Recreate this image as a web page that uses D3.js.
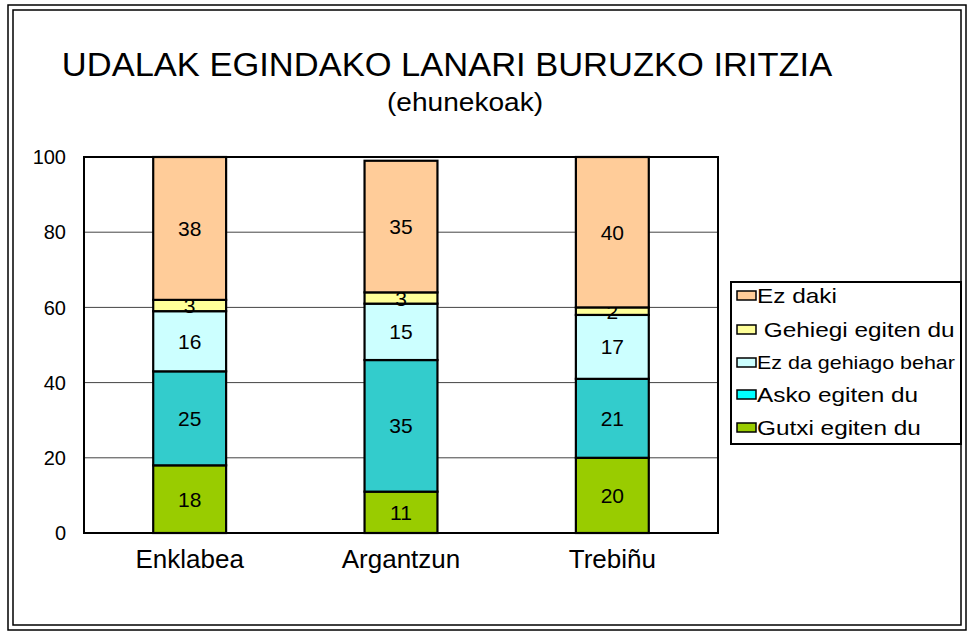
<!DOCTYPE html>
<html>
<head>
<meta charset="utf-8">
<script src="https://cdn.jsdelivr.net/npm/d3@7"></script>
<style>
  body { margin: 0; background: #fff; }
  svg { font-family: Arial, "Liberation Sans", sans-serif; }
</style>
</head>
<body>
<svg id="chart" width="973" height="632"></svg>
<script>
const categories = ["Enklabea", "Argantzun", "Trebiñu"];
// stacking order bottom -> top
const seriesNames = ["Gutxi egiten du", "Asko egiten du", "Ez da gehiago behar", "Gehiegi egiten du", "Ez daki"];
const gutxi = [18, 11, 20];
const asko = [25, 35, 21];
const ezDaGehiago = [16, 15, 17];
const gehiegi = [3, 3, 2];
const ezDaki = [38, 35, 40];
const yTicks = [0, 20, 40, 60, 80, 100];

const barColors = ["#99cc00", "#33cccc", "#ccffff", "#ffff99", "#ffcc99"];
const legendColors = ["#99cc00", "#00ffff", "#ccffff", "#ffff99", "#ffcc99"];

const svg = d3.select("#chart");
const margin = {top: 157, left: 84, right: 255, bottom: 99};
const width = 973 - margin.left - margin.right;
const height = 632 - margin.top - margin.bottom;

// double frame
svg.append("rect").attr("x", 8).attr("y", 5).attr("width", 958).attr("height", 625)
  .attr("fill", "none").attr("stroke", "#000").attr("stroke-width", 1.5);
svg.append("rect").attr("x", 13).attr("y", 10).attr("width", 948).attr("height", 615)
  .attr("fill", "none").attr("stroke", "#000").attr("stroke-width", 1.5);

// title, slightly widened like the original
svg.append("text").attr("transform", "translate(447,76) scale(1.045,1)")
  .attr("text-anchor", "middle")
  .attr("font-size", 33).text("UDALAK EGINDAKO LANARI BURUZKO IRITZIA");
svg.append("text").attr("transform", "translate(465,111) scale(1.08,1)")
  .attr("text-anchor", "middle")
  .attr("font-size", 26).text("(ehunekoak)");

const g = svg.append("g").attr("transform", `translate(${margin.left},${margin.top})`);

const x = d3.scaleBand().domain(categories).range([0, width]);
const y = d3.scaleLinear().domain([0, 100]).range([height, 0]);

// gridlines
g.selectAll(".grid").data(yTicks.filter(d => d > 0 && d < 100)).enter().append("line")
  .attr("x1", 0).attr("x2", width)
  .attr("y1", d => y(d)).attr("y2", d => y(d))
  .attr("stroke", "#444").attr("stroke-width", 1);

// y axis labels
g.selectAll(".ytick").data(yTicks).enter().append("text")
  .attr("x", -18).attr("y", d => y(d)).attr("dy", "0.36em")
  .attr("text-anchor", "end").attr("font-size", 20).text(d => d);

// stacked data
const table = categories.map((c, i) => ({
  cat: c,
  "Gutxi egiten du": gutxi[i],
  "Asko egiten du": asko[i],
  "Ez da gehiago behar": ezDaGehiago[i],
  "Gehiegi egiten du": gehiegi[i],
  "Ez daki": ezDaki[i]
}));
const stacked = d3.stack().keys(seriesNames)(table);

const barW = x.bandwidth() * 0.345;
const layers = g.selectAll(".layer").data(stacked).enter().append("g")
  .attr("fill", (d, i) => barColors[i]);

layers.selectAll("rect").data(d => d).enter().append("rect")
  .attr("x", d => x(d.data.cat) + (x.bandwidth() - barW) / 2)
  .attr("width", barW)
  .attr("y", d => y(d[1]))
  .attr("height", d => y(d[0]) - y(d[1]))
  .attr("stroke", "#000").attr("stroke-width", 2.2);

layers.selectAll("text").data(d => d).enter().append("text")
  .attr("x", d => x(d.data.cat) + x.bandwidth() / 2)
  .attr("y", d => (y(d[0]) + y(d[1])) / 2).attr("dy", "0.36em")
  .attr("text-anchor", "middle").attr("fill", "#000").attr("font-size", 21)
  .text(d => d[1] - d[0]);

// plot frame
g.append("rect").attr("x", 0).attr("y", 0).attr("width", width).attr("height", height)
  .attr("fill", "none").attr("stroke", "#000").attr("stroke-width", 2);

// category labels
g.selectAll(".xlab").data(categories).enter().append("text")
  .attr("x", d => x(d) + x.bandwidth() / 2).attr("y", height + 35)
  .attr("text-anchor", "middle").attr("font-size", 26).text(d => d);

// legend
const legend = svg.append("g").attr("transform", "translate(731,282)");
legend.append("rect").attr("width", 230).attr("height", 162)
  .attr("fill", "#fff").attr("stroke", "#000").attr("stroke-width", 2);
const legendOrder = seriesNames.slice().reverse();
const legendLabels = ["Ez daki", " Gehiegi egiten du", "Ez da gehiago behar", "Asko egiten du", "Gutxi egiten du"];
const legendSizes = [21, 21, 18.5, 21, 21];
const rowY = [13, 47, 80, 112, 145];
const item = legend.selectAll(".item").data(legendOrder).enter().append("g")
  .attr("transform", (d, i) => `translate(6,${rowY[i]})`);
item.append("rect").attr("x", 0).attr("y", -4).attr("width", 19).attr("height", 9)
  .attr("fill", d => legendColors[seriesNames.indexOf(d)])
  .attr("stroke", "#000").attr("stroke-width", 1.5);
item.append("text").attr("transform", "translate(20,0) scale(1.16,1)")
  .attr("dy", "0.36em")
  .attr("font-size", (d, i) => legendSizes[i])
  .attr("xml:space", "preserve").style("white-space", "pre")
  .text((d, i) => legendLabels[i]);
</script>
</body>
</html>
